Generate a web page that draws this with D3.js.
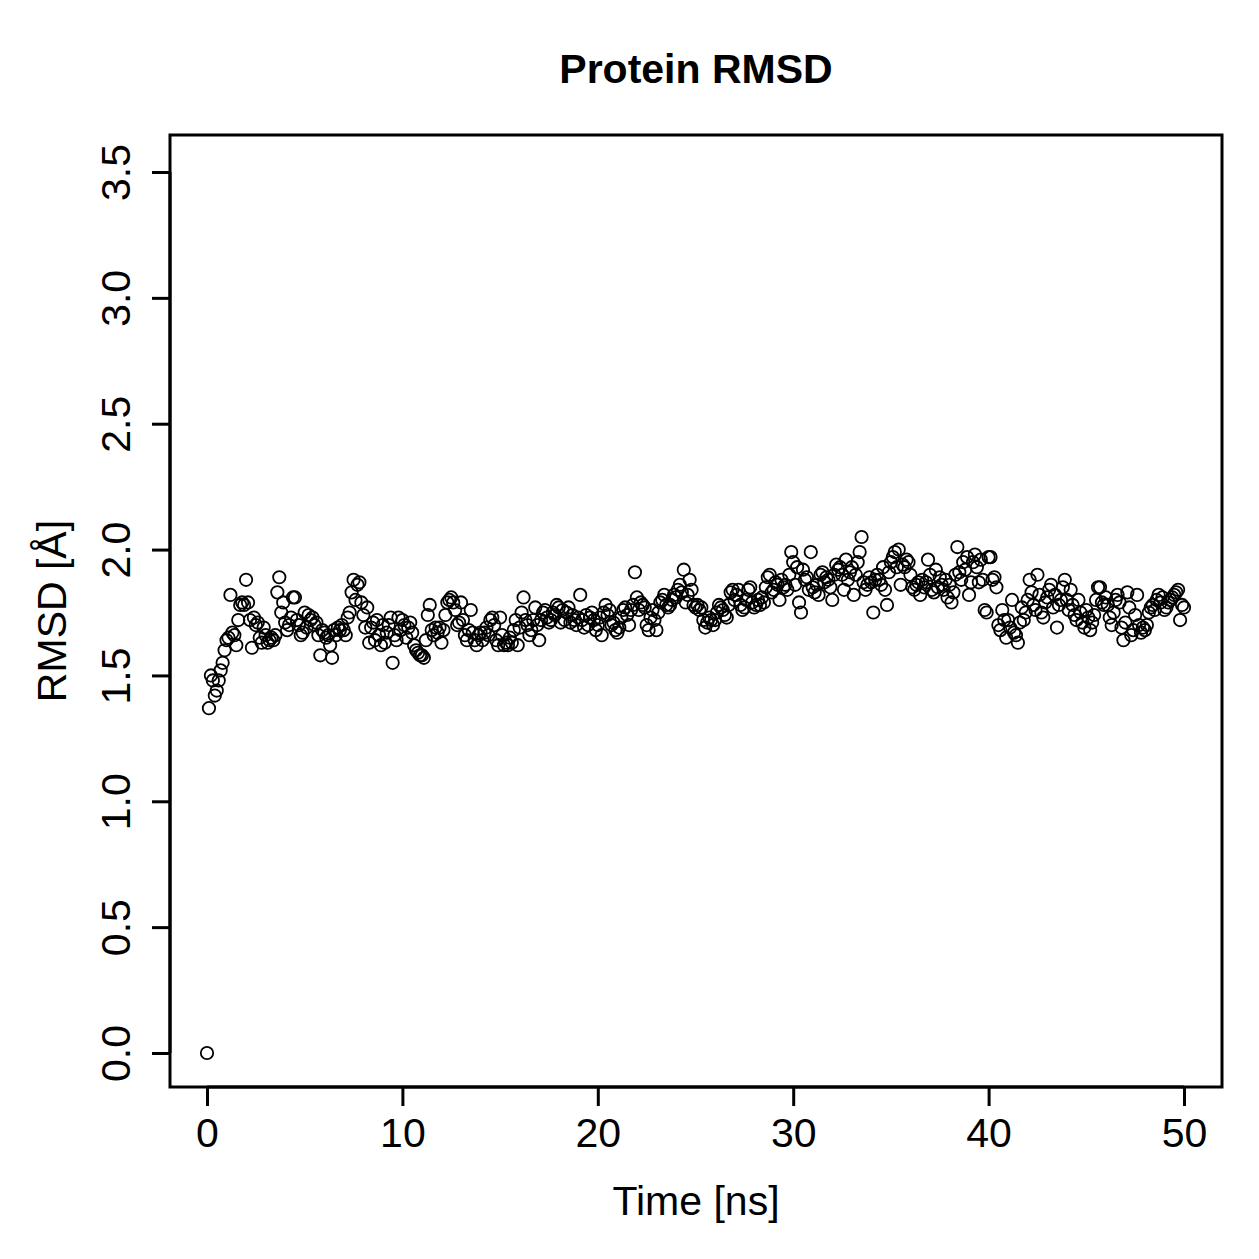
<!DOCTYPE html>
<html>
<head>
<meta charset="utf-8">
<script src="https://cdn.jsdelivr.net/npm/d3@7"></script>
<style>
  body { margin: 0; background: #fff; }
  text { font-family: "Liberation Sans", Arial, sans-serif; fill: #000; }
</style>
</head>
<body>
<script>
// chart size, same as the window
const WIDTH  = 1259;
const HEIGHT = 1259;

// labels
const title  = 'Protein RMSD';
const xTitle = 'Time [ns]';
const yTitle = 'RMSD [Å]';
const xTicks = [0, 10, 20, 30, 40, 50];
const yTicks = [0.0, 0.5, 1.0, 1.5, 2.0, 2.5, 3.0, 3.5];

// one frame every 0.1 ns, 0 .. 50 ns
const timeStep = 0.1;

// RMSD values, one row per ns
const rmsd = [
  0.00, 1.37, 1.50, 1.48, 1.42, 1.44, 1.48, 1.52, 1.55, 1.60,
  1.64, 1.65, 1.82, 1.67, 1.66, 1.62, 1.72, 1.78, 1.79, 1.78,
  1.88, 1.79, 1.72, 1.61, 1.73, 1.70, 1.71, 1.65, 1.63, 1.69,
  1.66, 1.63, 1.64, 1.65, 1.64, 1.66, 1.83, 1.89, 1.75, 1.79,
  1.71, 1.68, 1.70, 1.73, 1.81, 1.81, 1.72, 1.70, 1.66, 1.67,
  1.75, 1.69, 1.74, 1.72, 1.73, 1.70, 1.71, 1.66, 1.58, 1.68,
  1.67, 1.65, 1.66, 1.62, 1.57, 1.68, 1.66, 1.69, 1.68, 1.70,
  1.68, 1.66, 1.73, 1.75, 1.83, 1.88, 1.80, 1.86, 1.87, 1.79,
  1.74, 1.69, 1.77, 1.63, 1.69, 1.71, 1.64, 1.72, 1.66, 1.62,
  1.70, 1.63, 1.67, 1.70, 1.73, 1.55, 1.66, 1.64, 1.73, 1.68,
  1.72, 1.70, 1.65, 1.69, 1.71, 1.67, 1.62, 1.60, 1.59, 1.58,
  1.58, 1.57, 1.64, 1.74, 1.78, 1.68, 1.66, 1.69, 1.67, 1.69,
  1.63, 1.68, 1.74, 1.79, 1.80, 1.81, 1.79, 1.76, 1.70, 1.71,
  1.79, 1.72, 1.66, 1.64, 1.68, 1.76, 1.67, 1.64, 1.62, 1.66,
  1.67, 1.64, 1.67, 1.69, 1.66, 1.72, 1.73, 1.70, 1.64, 1.62,
  1.73, 1.66, 1.62, 1.63, 1.62, 1.65, 1.63, 1.68, 1.72, 1.62,
  1.69, 1.75, 1.81, 1.72, 1.70, 1.66, 1.68, 1.72, 1.77, 1.70,
  1.64, 1.72, 1.75, 1.76, 1.73, 1.71, 1.72, 1.75, 1.74, 1.78,
  1.77, 1.71, 1.76, 1.72, 1.75, 1.77, 1.71, 1.74, 1.72, 1.70,
  1.73, 1.82, 1.72, 1.69, 1.74, 1.70, 1.73, 1.75, 1.72, 1.68,
  1.70, 1.73, 1.66, 1.75, 1.78, 1.74, 1.76, 1.70, 1.71, 1.68,
  1.67, 1.69, 1.73, 1.76, 1.77, 1.74, 1.70, 1.76, 1.78, 1.91,
  1.81, 1.76, 1.79, 1.78, 1.77, 1.70, 1.68, 1.73, 1.76, 1.72,
  1.68, 1.75, 1.79, 1.80, 1.82, 1.78, 1.77, 1.78, 1.80, 1.82,
  1.81, 1.84, 1.86, 1.83, 1.92, 1.79, 1.82, 1.88, 1.84, 1.78,
  1.77, 1.78, 1.76, 1.77, 1.72, 1.69, 1.71, 1.73, 1.72, 1.70,
  1.72, 1.75, 1.78, 1.77, 1.76, 1.74, 1.73, 1.78, 1.83, 1.84,
  1.80, 1.82, 1.84, 1.78, 1.76, 1.77, 1.80, 1.84, 1.85, 1.79,
  1.77, 1.78, 1.80, 1.78, 1.81, 1.79, 1.85, 1.89, 1.90, 1.83,
  1.84, 1.87, 1.86, 1.80, 1.88, 1.85, 1.86, 1.84, 1.90, 1.99,
  1.95, 1.86, 1.93, 1.79, 1.75, 1.92, 1.88, 1.89, 1.84, 1.99,
  1.85, 1.83, 1.86, 1.82, 1.90, 1.91, 1.87, 1.89, 1.88, 1.85,
  1.80, 1.90, 1.94, 1.92, 1.93, 1.90, 1.84, 1.96, 1.88, 1.91,
  1.93, 1.82, 1.90, 1.95, 1.99, 2.05, 1.87, 1.84, 1.86, 1.89,
  1.87, 1.75, 1.88, 1.90, 1.88, 1.86, 1.93, 1.84, 1.78, 1.91,
  1.95, 1.97, 1.99, 1.93, 2.00, 1.86, 1.94, 1.93, 1.96, 1.95,
  1.90, 1.85, 1.84, 1.86, 1.87, 1.82, 1.88, 1.85, 1.87, 1.96,
  1.90, 1.84, 1.83, 1.92, 1.85, 1.89, 1.86, 1.84, 1.88, 1.81,
  1.86, 1.79, 1.83, 1.90, 2.01, 1.91, 1.88, 1.95, 1.92, 1.97,
  1.82, 1.87, 1.95, 1.98, 1.93, 1.87, 1.96, 1.88, 1.76, 1.75,
  1.97, 1.97, 1.88, 1.89, 1.85, 1.70, 1.68, 1.76, 1.72, 1.65,
  1.72, 1.69, 1.80, 1.67, 1.66, 1.63, 1.71, 1.77, 1.72, 1.75,
  1.80, 1.88, 1.83, 1.78, 1.76, 1.90, 1.82, 1.75, 1.73, 1.79,
  1.81, 1.84, 1.86, 1.77, 1.82, 1.69, 1.78, 1.80, 1.85, 1.88,
  1.80, 1.76, 1.84, 1.78, 1.74, 1.72, 1.80, 1.75, 1.71, 1.69,
  1.76, 1.73, 1.68, 1.71, 1.74, 1.80, 1.85, 1.85, 1.79, 1.78,
  1.81, 1.78, 1.73, 1.70, 1.75, 1.80, 1.82, 1.79, 1.69, 1.64,
  1.71, 1.83, 1.77, 1.66, 1.68, 1.74, 1.82, 1.70, 1.67, 1.69,
  1.68, 1.70, 1.75, 1.77, 1.78, 1.76, 1.80, 1.82, 1.79, 1.81,
  1.76, 1.77, 1.79, 1.80, 1.81, 1.82, 1.83, 1.84, 1.72, 1.78,
  1.77
];

// plot box (R style frame)
const box = { left: 170, right: 1222, top: 135, bottom: 1087 };

let x = d3.scaleLinear().domain([0, 50]).range([207, 1184]);
let y = d3.scaleLinear().domain([0, 3.5]).range([1053, 172]);

let svg = d3.select('body').append('svg')
    .attr('width', WIDTH)
    .attr('height', HEIGHT);

// frame
svg.append('rect')
    .attr('x', box.left)
    .attr('y', box.top)
    .attr('width', box.right - box.left)
    .attr('height', box.bottom - box.top)
    .attr('fill', 'none')
    .attr('stroke', '#000')
    .attr('stroke-width', 3);

// x axis: ticks pointing down, labels below
let xAxis = svg.append('g')
    .attr('transform', `translate(0,${box.bottom})`)
    .call(d3.axisBottom(x).tickValues(xTicks).tickSize(19).tickPadding(12).tickFormat(d3.format('d')));
xAxis.select('.domain').attr('stroke-width', 3).attr('d', `M${x(0)},0H${x(50)}`);
xAxis.selectAll('.tick line').attr('stroke-width', 3);
xAxis.selectAll('.tick text')
    .style('font-size', '41px')
    .style('font-family', '"Liberation Sans", Arial, sans-serif');

// y axis: labels rotated like R's las = 0
let yAxis = svg.append('g')
    .attr('transform', `translate(${box.left},0)`)
    .call(d3.axisLeft(y).tickValues(yTicks).tickSize(18).tickFormat(d3.format('.1f')));
yAxis.select('.domain').attr('stroke-width', 3).attr('d', `M0,${y(0)}V${y(3.5)}`);
yAxis.selectAll('.tick line').attr('stroke-width', 3);
yAxis.selectAll('.tick text')
    .attr('x', null).attr('dy', null)
    .attr('transform', 'translate(-40,0) rotate(-90)')
    .attr('text-anchor', 'middle')
    .style('font-size', '41px')
    .style('font-family', '"Liberation Sans", Arial, sans-serif');

// points
svg.append('g')
    .selectAll('circle')
    .data(rmsd)
    .join('circle')
    .attr('cx', (d, i) => x(i * timeStep))
    .attr('cy', d => y(d))
    .attr('r', 6.2)
    .attr('fill', 'none')
    .attr('stroke', '#000')
    .attr('stroke-width', 1.8);

// titles
svg.append('text')
    .attr('x', (box.left + box.right) / 2)
    .attr('y', 83)
    .attr('text-anchor', 'middle')
    .style('font-size', '41px')
    .style('font-weight', 'bold')
    .text(title);

svg.append('text')
    .attr('x', (box.left + box.right) / 2)
    .attr('y', 1215)
    .attr('text-anchor', 'middle')
    .style('font-size', '41px')
    .text(xTitle);

svg.append('text')
    .attr('transform', `translate(66,${(box.top + box.bottom) / 2}) rotate(-90)`)
    .attr('text-anchor', 'middle')
    .style('font-size', '41px')
    .text(yTitle);
</script>
</body>
</html>
